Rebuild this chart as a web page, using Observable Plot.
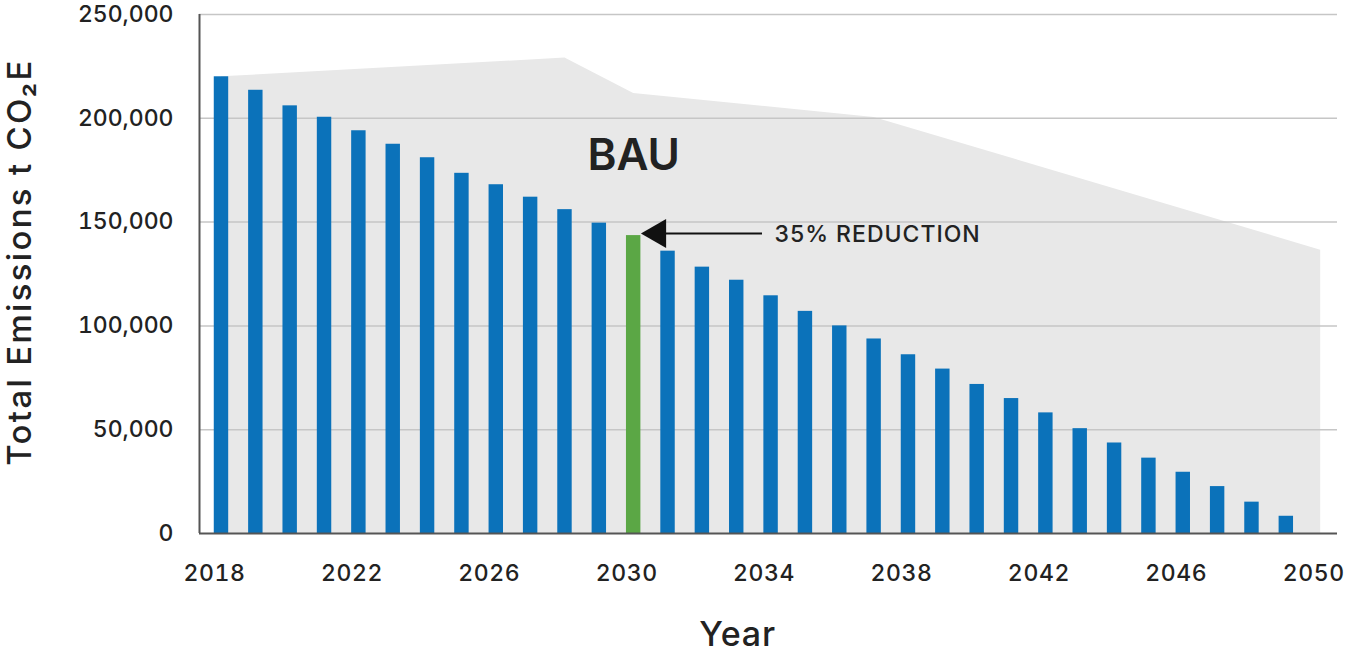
<!DOCTYPE html>
<html>
<head>
<meta charset="utf-8">
<script src="https://cdn.jsdelivr.net/npm/d3@7"></script>
<script src="https://cdn.jsdelivr.net/npm/@observablehq/plot@0.6"></script>
<style>
  html, body { margin: 0; padding: 0; background: #fff; overflow: hidden; }
</style>
</head>
<body>
<div id="chart"></div>
<script>
// ---- data ----
const years = [2018, 2019, 2020, 2021, 2022, 2023, 2024, 2025, 2026, 2027, 2028, 2029, 2030, 2031, 2032, 2033,
               2034, 2035, 2036, 2037, 2038, 2039, 2040, 2041, 2042, 2043, 2044, 2045, 2046, 2047, 2048, 2049];
const emissions = [220000, 213500, 206000, 200500, 194000, 187500, 181000, 173500, 168000, 162000, 156000, 149500,
                   143500, 136000, 128300, 122000, 114500, 107000, 100000, 93700, 86100, 79200, 71800, 65000,
                   58100, 50500, 43600, 36300, 29500, 22600, 15100, 8300];
const targetYear = 2030;
const bauYears = [2018, 2028, 2030, 2037, 2050];
const bauValues = [220000, 229000, 212000, 200400, 136500];
const yTicks = [0, 50000, 100000, 150000, 200000, 250000];
const xTicks = [2018, 2022, 2026, 2030, 2034, 2038, 2042, 2046, 2050];
const xDomain = [2017.36, 2050.49];
const yDomain = [0, 250000];
const bauLabel = [{text: "BAU", year: 2030, value: 182000}];
const reductionLabel = [{text: "35% REDUCTION", year: 2034.1, value: 144000}];
const arrowShaft = [{from: 2033.75, to: 2030.6, value: 144500}];
const arrowHead = [{year: 2030.7, value: 144500}];
const yTitle = "Total Emissions t CO₂E";
const xTitle = "Year";

const bars = years.map((year, i) => ({year, value: emissions[i]}));
const bau = bauYears.map((year, i) => ({year, value: bauValues[i]}));

const BLUE = "#0b72ba", GREEN = "#5ba745", GREY_AREA = "#e8e8e8", GRID = "#c6c6c6", AXIS = "#555", TEXT = "#222";
const FONT = "Inter, 'Noto Sans', sans-serif";

const chart = Plot.plot({
  width: 1351,
  height: 654,
  marginLeft: 199,
  marginRight: 14,
  marginTop: 14,
  marginBottom: 121,
  x: {domain: xDomain, axis: null},
  y: {domain: yDomain, axis: null},
  style: {fontFamily: FONT, background: "#fff", color: TEXT},
  marks: [
    Plot.areaY(bau, {x: "year", y: "value", fill: GREY_AREA}),
    Plot.gridY(yTicks.slice(1), {stroke: GRID, strokeOpacity: 1, strokeWidth: 1.5}),
    Plot.rectY(bars, {
      x1: d => d.year - 0.21,
      x2: d => d.year + 0.21,
      y1: 0,
      y2: "value",
      fill: d => d.year === targetYear ? GREEN : BLUE
    }),
    Plot.ruleY([yDomain[0]], {stroke: AXIS, strokeWidth: 2}),
    Plot.ruleX([xDomain[0]], {y1: yDomain[0], y2: yDomain[1], stroke: AXIS, strokeWidth: 2}),
    Plot.axisY(yTicks, {
      tickSize: 0, tickPadding: 26, tickFormat: d3.format(","),
      fontSize: 23, fontWeight: 500, fill: TEXT, label: null
    }),
    Plot.axisX(xTicks, {
      tickSize: 0, tickPadding: 31, tickFormat: d => String(d),
      fontSize: 23, fontWeight: 500, fill: TEXT, label: null, dx: -7
    }),
    Plot.text(bauLabel, {x: "year", y: "value", text: "text", fontSize: 44, fontWeight: 600, fill: TEXT}),
    Plot.ruleY(arrowShaft, {x1: "from", x2: "to", y: "value", stroke: "#111", strokeWidth: 2}),
    Plot.dot(arrowHead, {x: "year", y: "value", symbol: "triangle", r: 10.8, rotate: -90, fill: "#111", stroke: null}),
    Plot.text(reductionLabel, {x: "year", y: "value", text: "text", textAnchor: "start", fontSize: 23, fontWeight: 500, fill: TEXT}),
    Plot.text([yTitle], {
      frameAnchor: "left", textAnchor: "middle", lineAnchor: "middle", rotate: -90,
      dx: -179, dy: -12, fontSize: 33, fontWeight: 500, fill: TEXT
    }),
    Plot.text([xTitle], {
      frameAnchor: "bottom", textAnchor: "middle", lineAnchor: "middle",
      dx: -31, dy: 102, fontSize: 34, fontWeight: 500, fill: TEXT
    })
  ]
});
// letter spacing to mimic the wide geometric typeface of the original
const spacing = new Map([
  [yTitle, 2.3],
  [reductionLabel[0].text, 1],
  [xTitle, 0.8],
  ...xTicks.map(t => [String(t), 0.6])
]);
chart.querySelectorAll("text").forEach(t => {
  const ls = spacing.get(t.textContent);
  if (ls != null) {
    t.setAttribute("letter-spacing", ls);
    t.style.letterSpacing = ls + "px";
  }
});
document.getElementById("chart").append(chart);
</script>
</body>
</html>
